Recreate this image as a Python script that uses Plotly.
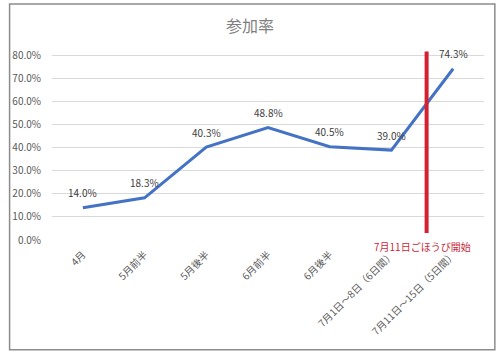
import plotly.graph_objects as go

categories = ["4月", "5月前半", "5月後半", "6月前半", "6月後半", "7月1日～8日（6日間）", "7月11日～15日（5日間）"]
rates = [0.140, 0.183, 0.403, 0.488, 0.405, 0.390, 0.743]
labels = ["14.0%", "18.3%", "40.3%", "48.8%", "40.5%", "39.0%", "74.3%"]
marker_x = [5.57, 5.57]
marker_y = [0.03, 0.818]
marker_text = "7月11日ごほうび開始"
y_ticks = [0, 0.1, 0.2, 0.3, 0.4, 0.5, 0.6, 0.7, 0.8]
y_ticktext = ["0.0%", "10.0%", "20.0%", "30.0%", "40.0%", "50.0%", "60.0%", "70.0%", "80.0%"]

FONT = "Noto Sans CJK JP"
xs = list(range(len(categories)))

fig = go.Figure()
fig.add_trace(go.Scatter(
    x=xs, y=rates, mode="lines",
    line=dict(color="#4472C4", width=3), cliponaxis=False, hoverinfo="skip",
))
fig.add_trace(go.Scatter(
    x=marker_x, y=marker_y, mode="lines",
    line=dict(color="#D42030", width=4), cliponaxis=False, hoverinfo="skip",
))
for xv, yv, t in zip(xs, rates, labels):
    fig.add_annotation(x=xv, y=yv, xref="x", yref="y", text=t, showarrow=False,
                       yshift=15, font=dict(size=10, color="#404040", family=FONT))
fig.add_annotation(x=marker_x[0], y=marker_y[0], xref="x", yref="y", text=marker_text,
                   showarrow=False, yshift=-13, xshift=-4,
                   font=dict(size=10, color="#C8283A", family=FONT))

fig.update_layout(
    width=500, height=354,
    margin=dict(l=46, r=16, t=51, b=114),
    paper_bgcolor="white", plot_bgcolor="white",
    showlegend=False,
    title=dict(text="参加率", x=0.5, xanchor="center", y=0.925, yanchor="middle",
               font=dict(size=16, color="#7F7F7F", family=FONT)),
    font=dict(family=FONT, color="#595959", size=10),
    xaxis=dict(range=[-0.5, 6.5], tickvals=xs, ticktext=categories, tickangle=-45,
               showgrid=False, zeroline=False, showline=False, ticks="",
               ticklabelstandoff=6,
               tickfont=dict(size=10, color="#595959")),
    yaxis=dict(range=[0, 0.82], tickvals=y_ticks, ticktext=y_ticktext,
               showgrid=True, gridcolor="#D9D9D9", gridwidth=1, zeroline=False,
               showline=False, ticks="", ticklabelstandoff=10,
               tickfont=dict(size=10, color="#595959")),
    shapes=[dict(type="rect", xref="paper", yref="paper",
                 x0=-43/438, x1=1 + 11/438, y0=-(350 - 240) / 189.5, y1=1 + 47/189.5,
                 line=dict(color="#8C8C8C", width=1.5), fillcolor="rgba(0,0,0,0)")],
)

fig.write_html("out.html")
